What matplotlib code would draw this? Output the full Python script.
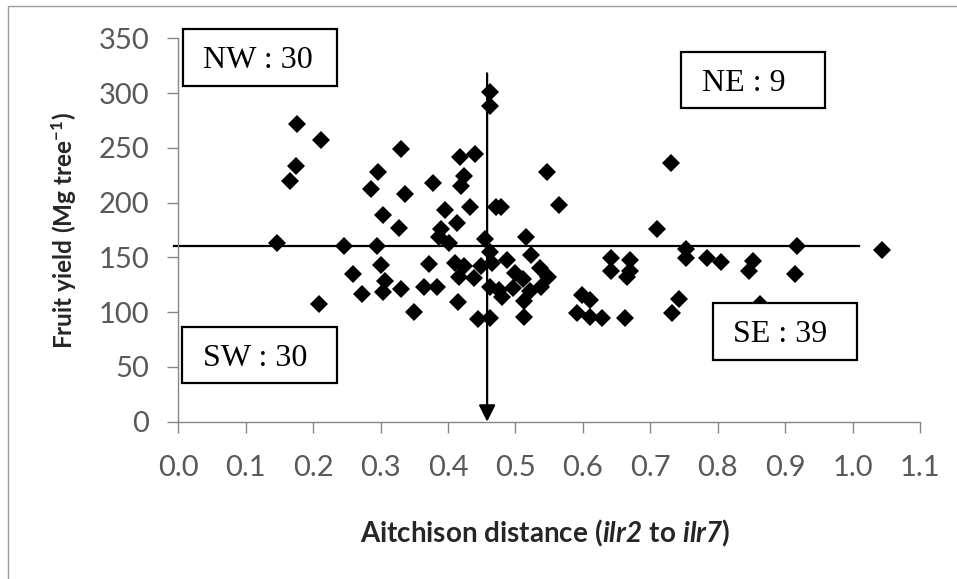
import numpy as np
import matplotlib
matplotlib.use('Agg')
import matplotlib.pyplot as plt
import matplotlib.patches as patches

# ----------
# Data: Aitchison distance vs fruit yield

dist = [0.146, 0.176, 0.174, 0.165, 0.212, 0.246, 0.296, 0.286, 0.331, 0.336,
        0.303, 0.327, 0.294, 0.378, 0.396, 0.413, 0.390, 0.386, 0.401, 0.418,
        0.440, 0.423, 0.419, 0.432, 0.455,
        0.259, 0.300, 0.307, 0.272, 0.304, 0.330, 0.209, 0.350, 0.372, 0.411,
        0.423, 0.449, 0.416, 0.438, 0.365, 0.383, 0.415, 0.445,
        0.462, 0.462, 0.471, 0.479, 0.547, 0.565, 0.516, 0.731, 0.710,
        0.463, 0.465, 0.487, 0.523, 0.536, 0.549, 0.500, 0.511, 0.462, 0.480,
        0.497, 0.522, 0.538, 0.512, 0.463, 0.512, 0.598, 0.610, 0.591, 0.611,
        0.628, 0.663, 0.641, 0.670, 0.642, 0.670, 0.665, 0.753, 0.753, 0.784,
        0.805, 0.853, 0.846, 0.915, 0.917, 1.044, 0.742, 0.732, 0.863, 0.476]

yield_mg = [163, 272, 233, 220, 257, 160, 228, 212, 249, 208,
            189, 177, 160, 218, 193, 181, 176, 169, 163, 242,
            244, 224, 215, 196, 167,
            135, 143, 128, 117, 118, 121, 107, 100, 144, 145,
            142, 142, 132, 131, 123, 123, 109, 94,
            301, 288, 196, 196, 228, 198, 169, 236, 176,
            155, 145, 148, 152, 140, 132, 136, 130, 123, 114,
            122, 119, 123, 110, 95, 96, 116, 111, 99, 96,
            95, 95, 149, 148, 138, 138, 132, 158, 149, 149,
            146, 147, 138, 135, 160, 157, 112, 99, 107, 120]

x_split = 0.458
y_split = 160

quadrants = ['NW : 30', 'NE : 9', 'SW : 30', 'SE : 39']

xticks = np.arange(0, 1.11, 0.1)
yticks = np.arange(0, 351, 50)

# ----------

W, H = 957, 579
fig = plt.figure(figsize=(W / 100, H / 100), dpi=100, facecolor='white')

matplotlib.rcParams['mathtext.fontset'] = 'custom'
matplotlib.rcParams['mathtext.rm'] = 'Lato'
matplotlib.rcParams['mathtext.bf'] = 'Lato:bold'
matplotlib.rcParams['mathtext.it'] = 'Lato:italic'
matplotlib.rcParams['mathtext.bfit'] = 'Lato:bold:italic'

# pixel box of the plot area in the reference
left, right, top, bottom = 178.3, 920.0, 38.3, 421.7
ax = fig.add_axes([left / W, 1 - bottom / H, (right - left) / W, (bottom - top) / H])

ax.set_xlim(0, 1.1)
ax.set_ylim(0, 350)

for s in ['top', 'right']:
    ax.spines[s].set_visible(False)
for s in ['left', 'bottom']:
    ax.spines[s].set_color('#868686')
    ax.spines[s].set_linewidth(1.0)

ax.set_xticks(xticks)
ax.set_xticklabels(['%.1f' % v for v in xticks])
ax.set_yticks(yticks)
ax.set_yticklabels(['%d' % v for v in yticks])
ax.tick_params(direction='out', length=8, width=1, color='#868686',
               labelcolor='#595959', labelsize=21)
ax.tick_params(axis='x', pad=16)
ax.tick_params(axis='y', pad=13)
for label in ax.get_xticklabels() + ax.get_yticklabels():
    label.set_family('Lato')

ax.set_xlabel(r'$\mathbf{Aitchison\ distance\ (}\mathbfit{ilr2}\mathbf{\ to\ }\mathbfit{ilr7}\mathbf{)}$',
              fontsize=20, color='#262626')
ax.set_ylabel(r'$\mathbf{Fruit\ yield\ (Mg\ tree^{-1})}$', fontsize=17.5, color='#262626')
ax.xaxis.set_label_coords(0.494, -0.252)
ax.yaxis.set_label_coords(-0.134, 0.5)

# scatter points
ax.plot(dist, yield_mg, linestyle='none', marker='D', markersize=9.5,
        color='black', markeredgewidth=0, zorder=3)

# split lines
ax.plot([-0.006, 1.01], [y_split, y_split], color='black', lw=1.6,
        clip_on=False, zorder=2)
ax.annotate('', xy=(x_split, 0), xytext=(x_split, 318),
            arrowprops=dict(arrowstyle='-|>', color='black', lw=1.6,
                            mutation_scale=25, shrinkA=0, shrinkB=0),
            annotation_clip=False, zorder=2)

# quadrant count boxes (pixel boxes from the reference)
boxes = [(183, 29, 337, 86, 203), (681, 52, 825, 108, 702),
         (182, 327, 337, 383, 203), (713, 303, 857, 360, 733)]
for (x0, y0, x1, y1, tx), lab in zip(boxes, quadrants):
    r = patches.Rectangle((x0 / W, 1 - y1 / H), (x1 - x0) / W, (y1 - y0) / H,
                          transform=fig.transFigure, facecolor='white',
                          edgecolor='black', lw=1.6, zorder=5)
    fig.add_artist(r)
    fig.text(tx / W, 1 - (y0 + y1) / 2 / H, lab, family='Liberation Serif',
             fontsize=23, ha='left', va='center_baseline', zorder=6)

# outer chart frame
frame = patches.Rectangle((8 / W, -0.05), 1.0, 1 - 6 / H + 0.05,
                          transform=fig.transFigure, fill=False,
                          edgecolor='#9a9a9a', lw=1.0)
fig.add_artist(frame)

fig.savefig('out.png', dpi=100, facecolor='white')
